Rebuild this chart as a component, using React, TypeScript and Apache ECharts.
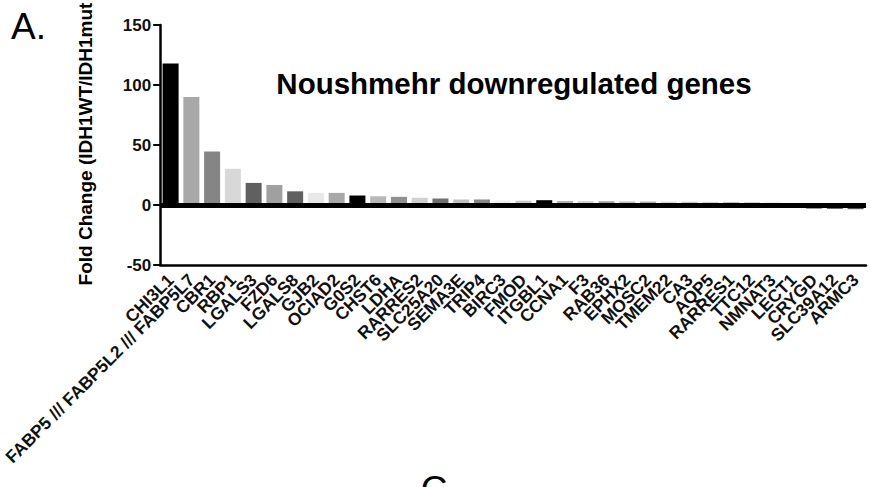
import React, { useEffect, useRef } from "react";
import * as echarts from "echarts";

const genes = [
  "CHI3L1", "FABP5 /// FABP5L2 /// FABP5L7", "CBR1", "RBP1", "LGALS3", "FZD6", "LGALS8", "GJB2",
  "OCIAD2", "G0S2", "CHST6", "LDHA", "RARRES2", "SLC25A20", "SEMA3E", "TRIP4", "BIRC3", "FMOD",
  "ITGBL1", "CCNA1", "F3", "RAB36", "EPHX2", "MOSC2", "TMEM22", "CA3", "AQP5", "RARRES1", "TTC12",
  "NMNAT3", "LECT1", "CRYGD", "SLC39A12", "ARMC3",
];

const foldChange = [
  118, 90, 44.6, 30.2, 18.4, 16.7, 11.4, 10.1,
  10.1, 7.9, 7.3, 6.8, 6, 5.4, 4.6, 4.6, 3.8, 3.6,
  4, 3.3, 3.2, 3.1, 3, 2.9, 2.8, 2.7, 2.6, 2.5, 2,
  1.8, 1.5, -3, -3.3, -3.5,
];

const barColors = [
  "#000000", "#a8a8a8", "#858585", "#d8d8d8", "#606060", "#a0a0a0", "#606060", "#e8e8e8",
  "#a8a8a8", "#000000", "#b8b8b8", "#909090", "#d0d0d0", "#707070", "#c0c0c0", "#888888", "#f0f0f0", "#c8c8c8",
  "#000000", "#b0b0b0", "#d0d0d0", "#a0a0a0", "#c0c0c0", "#b0b0b0", "#d8d8d8", "#c8c8c8", "#d0d0d0", "#c0c0c0", "#909090",
  "#909090", "#a0a0a0", "#555555", "#666666", "#555555",
];

const yTicks = { min: -50, max: 150, interval: 50 };

const title = "Noushmehr downregulated genes";
const yLabel = "Fold Change (IDH1WT/IDH1mut";

const FONT = "'Liberation Sans', Arial, Helvetica, sans-serif";

export default function App() {
  const ref = useRef<HTMLDivElement>(null);
  useEffect(() => {
    if (!ref.current) return;
    const chart = echarts.init(ref.current, null, { renderer: "svg" });
    chart.setOption({
      animation: false,
      backgroundColor: "#ffffff",
      textStyle: { fontFamily: FONT },
      grid: { left: 157, right: 5, top: 25, bottom: 222, containLabel: false },
      xAxis: {
        type: "category",
        data: genes,
        axisLine: { onZero: false, lineStyle: { color: "#000", width: 2.5 } },
        axisTick: { alignWithLabel: true, length: 8, lineStyle: { color: "#000", width: 2 } },
        axisLabel: {
          interval: 0,
          rotate: 45,
          fontSize: 17.5,
          fontWeight: "bold",
          color: "#111",
          fontFamily: FONT,
          margin: 12,
        },
      },
      yAxis: {
        type: "value",
        min: yTicks.min,
        max: yTicks.max,
        interval: yTicks.interval,
        splitLine: { show: false },
        axisLine: { show: true, lineStyle: { color: "#000", width: 2.5 } },
        axisTick: { show: true, length: 7, lineStyle: { color: "#000", width: 2 } },
        axisLabel: { fontSize: 17, fontWeight: "bold", color: "#111", fontFamily: FONT, margin: 9 },
      },
      series: [
        {
          type: "bar",
          barWidth: 16,
          data: foldChange.map((v, i) => ({ value: v, itemStyle: { color: barColors[i] } })),
          markLine: {
            silent: true,
            symbol: "none",
            label: { show: false },
            lineStyle: { color: "#000", width: 5, type: "solid" },
            data: [{ yAxis: 0 }],
          },
        },
      ],
      graphic: [
        {
          type: "text",
          left: 11,
          top: 8,
          style: { text: "A.", font: `37px ${FONT}`, fill: "#000" },
        },
        {
          type: "text",
          x: 514,
          y: 83,
          style: {
            text: title,
            font: `bold 29.5px ${FONT}`,
            fill: "#000",
            textAlign: "center",
            textVerticalAlign: "middle",
          },
        },
        {
          type: "text",
          x: 85,
          y: 144,
          rotation: Math.PI / 2,
          style: {
            text: yLabel,
            font: `bold 19px ${FONT}`,
            fill: "#000",
            textAlign: "center",
            textVerticalAlign: "middle",
          },
        },
        {
          type: "text",
          x: 434,
          y: 471,
          style: {
            text: "C",
            font: `37px ${FONT}`,
            fill: "#000",
            textAlign: "center",
            textVerticalAlign: "top",
          },
        },
      ],
    });
    return () => chart.dispose();
  }, []);
  return (
    <div
      ref={ref}
      style={{ position: "fixed", left: 0, top: 0, width: 871, height: 487, background: "#fff" }}
    />
  );
}
